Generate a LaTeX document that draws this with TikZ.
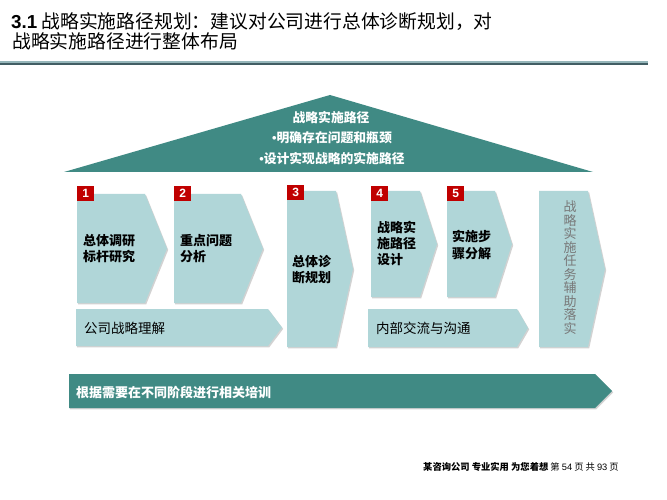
\documentclass[tikz,border=0pt]{standalone}
\usepackage{fontspec}
\setmainfont{Noto Sans CJK SC}
\newfontfamily\arial{Liberation Sans}
\usetikzlibrary{shadows}
\definecolor{roofteal}{RGB}{64,138,132}
\definecolor{lightbox}{RGB}{176,214,216}
\definecolor{redsq}{RGB}{192,0,0}
\definecolor{bandlight}{RGB}{150,182,186}
\definecolor{banddark}{RGB}{66,94,100}
\definecolor{vgray}{RGB}{120,120,120}
\tikzset{
  lbox/.style={fill=lightbox, drop shadow={shadow xshift=1.2pt, shadow yshift=-1.4pt, opacity=.35}},
  dbox/.style={fill=roofteal, drop shadow={shadow xshift=1.2pt, shadow yshift=-1.4pt, opacity=.35}},
  numsq/.style={fill=redsq, minimum width=17pt, minimum height=14.5pt, inner sep=0pt, text=white, font=\arial\bfseries\fontsize{12}{12}\selectfont},
  boxtxt/.style={anchor=west, inner sep=0pt, align=left, font=\bfseries\fontsize{13}{16.5}\selectfont},
  bartxt/.style={anchor=west, inner sep=0pt, font=\fontsize{13.5}{15}\selectfont},
  rooftxt/.style={inner sep=0pt, text=white, font=\bfseries\fontsize{12.8}{14}\selectfont},
}
\begin{document}
\begin{tikzpicture}[x=1pt,y=-1pt]
\useasboundingbox (0,0) rectangle (667,500);
\fill[white] (0,0) rectangle (667,500);
% title
\node[anchor=west, inner sep=0pt, font=\fontsize{18.8}{22}\selectfont] (t1) at (11,21.5) {{\arial\bfseries 3.1} 战略实施路径规划：建议对公司进行总体诊断规划，对};
\node[anchor=west, inner sep=0pt, font=\fontsize{18.8}{22}\selectfont] (t2) at (12,41.7) {战略实施路径进行整体布局};
\fill[bandlight] (0,61.3) rectangle (648,62.7);
\fill[banddark] (0,62.7) rectangle (648,65.2);
% roof
\fill[roofteal] (64,172) -- (330,95) -- (593,172) -- cycle;
\node[rooftxt] (r1) at (331,117.5) {战略实施路径};
\node[rooftxt] (r2) at (332,138) {{\arial•}明确存在问题和瓶颈};
\node[rooftxt] (r3) at (332,159) {{\arial•}设计实现战略的实施路径};
% chevrons
\path[lbox] (77,194) -- (145,194) -- (167,248.5) -- (145,303) -- (77,303) -- cycle;
\path[lbox] (174,194) -- (241,194) -- (263,248.5) -- (241,303) -- (174,303) -- cycle;
\path[lbox] (287,191) -- (336,191) -- (353,269) -- (336,347) -- (287,347) -- cycle;
\path[lbox] (371,191) -- (420,191) -- (437,244) -- (420,297) -- (371,297) -- cycle;
\path[lbox] (447,191) -- (495,191) -- (512,244) -- (495,297) -- (447,297) -- cycle;
\path[lbox] (539,191) -- (588,191) -- (605,269) -- (588,347) -- (539,347) -- cycle;
\path[lbox] (76,309) -- (268,309) -- (282,327.5) -- (268,346) -- (76,346) -- cycle;
\path[lbox] (368,309) -- (517,309) -- (528,328) -- (517,347) -- (368,347) -- cycle;
\path[dbox] (69,374) -- (595,374) -- (612,391) -- (595,408) -- (69,408) -- cycle;
% numbers
\node[numsq, anchor=north west] (n1) at (77,186) {1};
\node[numsq, anchor=north west] (n2) at (174,186) {2};
\node[numsq, anchor=north west] (n3) at (287,185) {3};
\node[numsq, anchor=north west] (n4) at (371,186) {4};
\node[numsq, anchor=north west] (n5) at (447,186) {5};
% texts
\node[boxtxt] (b1) at (83,248.5) {总体调研\\标杆研究};
\node[boxtxt] (b2) at (180,248.5) {重点问题\\分析};
\node[boxtxt] (b3) at (292,269.5) {总体诊\\断规划};
\node[boxtxt, font=\bfseries\fontsize{13}{16}\selectfont] (b4) at (377,243) {战略实\\施路径\\设计};
\node[boxtxt] (b5) at (452,245) {实施步\\骤分解};
\node[inner sep=0pt, align=center, text=vgray, font=\fontsize{13}{13.5}\selectfont] (b6) at (570,267.5) {战\\略\\实\\施\\任\\务\\辅\\助\\落\\实};
\node[bartxt] (a1) at (84,328) {公司战略理解};
\node[bartxt] (a2) at (376,328) {内部交流与沟通};
\node[anchor=west, inner sep=0pt, text=white, font=\bfseries\fontsize{13}{15}\selectfont] (tr) at (76,392) {根据需要在不同阶段进行相关培训};
% footer
\node[anchor=west, inner sep=0pt, font=\fontsize{9.3}{11}\selectfont] (ft) at (423,467) {\textbf{某咨询公司 专业实用 为您着想} 第 {\arial 54} 页 共 {\arial 93} 页};
\end{tikzpicture}
\end{document}
